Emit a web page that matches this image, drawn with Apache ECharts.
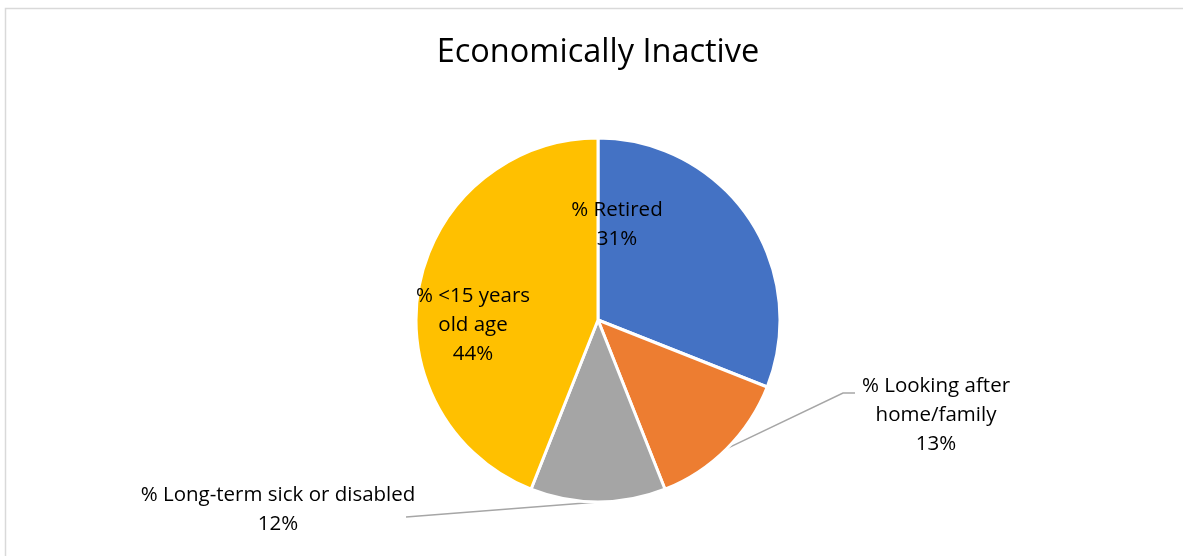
<!DOCTYPE html>
<html>
<head>
<meta charset="utf-8">
<title>Economically Inactive</title>
<script src="https://cdn.jsdelivr.net/npm/echarts@6/dist/echarts.min.js"></script>
<style>
  html, body { margin: 0; padding: 0; background: #fff; }
  #chart { width: 1183px; height: 556px; }
</style>
</head>
<body>
<div id="chart"></div>
<script>
// Share of economically inactive residents, by reason
const categories = [
  '% Retired',
  '% Looking after\nhome/family',
  '% Long-term sick or disabled',
  '% <15 years\nold age'
];
const shares = [31, 13, 12, 44];
const colors = ['#4472C4', '#ED7D31', '#A5A5A5', '#FFC000'];

const chart = echarts.init(document.getElementById('chart'));

const center = [598, 320];
const radius = 182;
const font = 'Open Sans, Noto Sans, sans-serif';

// Label anchor for each slice, relative to the pie centre
const labelSpots = [
  { dx: 19, dy: -95, line: null },
  { dx: 338, dy: 95, line: 'right' },
  { dx: -320, dy: 190, line: 'left' },
  { dx: -125, dy: 5, line: null }
];

function pointOnRim(idx, r) {
  const total = shares.reduce((a, b) => a + b, 0);
  let before = 0;
  for (let i = 0; i < idx; i++) before += shares[i];
  const mid = (before + shares[idx] / 2) / total * Math.PI * 2;
  return [center[0] + r * Math.sin(mid), center[1] - r * Math.cos(mid)];
}

chart.setOption({
  animation: false,
  backgroundColor: '#fff',
  title: {
    text: 'Economically Inactive',
    left: 593,
    textAlign: 'center',
    top: 31,
    textStyle: { fontFamily: font, fontSize: 32.5, fontWeight: 'normal', color: '#000' }
  },
  graphic: [{
    type: 'rect',
    shape: { x: 5.5, y: 8.5, width: 1200, height: 600 },
    style: { fill: 'none', stroke: '#d9d9d9', lineWidth: 1.5 },
    silent: true
  }],
  series: [{
    type: 'pie',
    center: center,
    radius: radius,
    startAngle: 90,
    clockwise: true,
    itemStyle: { borderColor: '#fff', borderWidth: 3 },
    label: {
      show: true,
      position: 'outside',
      fontFamily: font,
      fontSize: 20.5,
      lineHeight: 29,
      color: '#000',
      align: 'center',
      formatter: p => p.name + '\n' + p.value + '%'
    },
    labelLine: {
      show: true,
      lineStyle: { color: '#a6a6a6', width: 1.5 }
    },
    labelLayout: function (params) {
      const i = params.dataIndex;
      const spot = labelSpots[i];
      const x = center[0] + spot.dx;
      const y = center[1] + spot.dy;
      const out = { x: x, y: y, align: 'center', verticalAlign: 'middle' };
      const rim = pointOnRim(i, radius);
      if (spot.line === 'right') {
        out.labelLinePoints = [rim, [x - 93, y - 22], [x - 81, y - 22]];
      } else if (spot.line === 'left') {
        out.labelLinePoints = [rim, [x + 128, y + 7], [x + 128, y + 7]];
      } else {
        out.labelLinePoints = [rim, rim, rim];
      }
      return out;
    },
    data: categories.map((name, i) => ({
      name: name,
      value: shares[i],
      itemStyle: { color: colors[i] },
      labelLine: { show: labelSpots[i].line !== null }
    }))
  }]
});
</script>
</body>
</html>
